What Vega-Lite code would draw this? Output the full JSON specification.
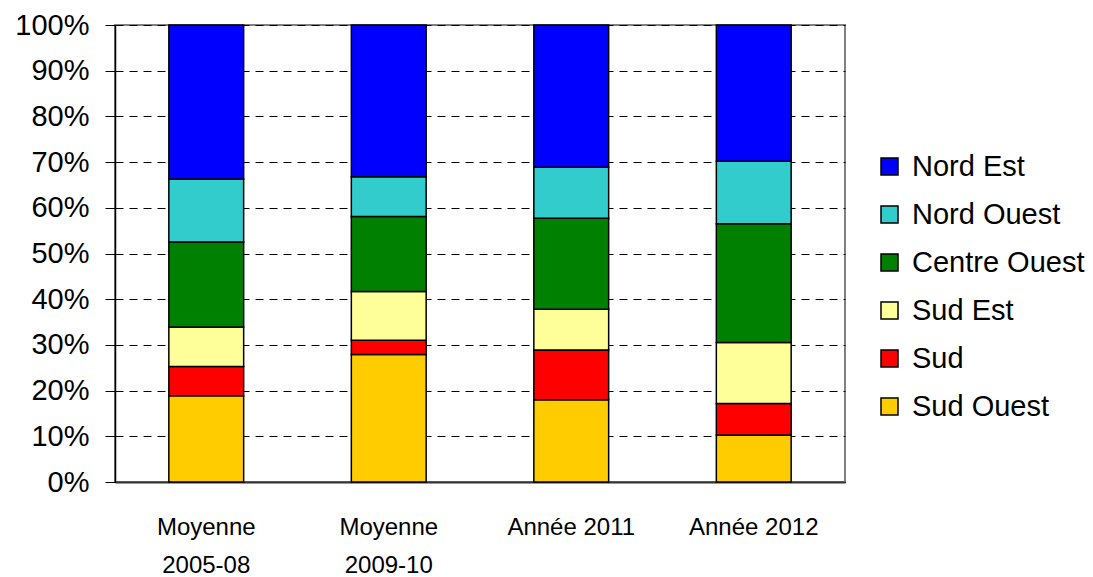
{
  "$schema": "https://vega.github.io/schema/vega-lite/v6.json",
  "width": 730,
  "height": 457,
  "autosize": {"type": "none"},
  "padding": {"left": 115, "top": 25, "right": 248, "bottom": 95},
  "background": "white",
  "config": {
    "view": {"stroke": "#808080", "strokeWidth": 2},
    "font": "Liberation Sans"
  },
  "data": {
    "values": [
      {"periode": "Moyenne 2005-08", "region": "Sud Ouest", "ord": 1, "part": 0.189},
      {"periode": "Moyenne 2005-08", "region": "Sud", "ord": 2, "part": 0.064},
      {"periode": "Moyenne 2005-08", "region": "Sud Est", "ord": 3, "part": 0.086},
      {"periode": "Moyenne 2005-08", "region": "Centre Ouest", "ord": 4, "part": 0.186},
      {"periode": "Moyenne 2005-08", "region": "Nord Ouest", "ord": 5, "part": 0.138},
      {"periode": "Moyenne 2005-08", "region": "Nord Est", "ord": 6, "part": 0.337},
      {"periode": "Moyenne 2009-10", "region": "Sud Ouest", "ord": 1, "part": 0.279},
      {"periode": "Moyenne 2009-10", "region": "Sud", "ord": 2, "part": 0.031},
      {"periode": "Moyenne 2009-10", "region": "Sud Est", "ord": 3, "part": 0.107},
      {"periode": "Moyenne 2009-10", "region": "Centre Ouest", "ord": 4, "part": 0.164},
      {"periode": "Moyenne 2009-10", "region": "Nord Ouest", "ord": 5, "part": 0.087},
      {"periode": "Moyenne 2009-10", "region": "Nord Est", "ord": 6, "part": 0.332},
      {"periode": "Année 2011", "region": "Sud Ouest", "ord": 1, "part": 0.180},
      {"periode": "Année 2011", "region": "Sud", "ord": 2, "part": 0.109},
      {"periode": "Année 2011", "region": "Sud Est", "ord": 3, "part": 0.089},
      {"periode": "Année 2011", "region": "Centre Ouest", "ord": 4, "part": 0.199},
      {"periode": "Année 2011", "region": "Nord Ouest", "ord": 5, "part": 0.112},
      {"periode": "Année 2011", "region": "Nord Est", "ord": 6, "part": 0.311},
      {"periode": "Année 2012", "region": "Sud Ouest", "ord": 1, "part": 0.103},
      {"periode": "Année 2012", "region": "Sud", "ord": 2, "part": 0.069},
      {"periode": "Année 2012", "region": "Sud Est", "ord": 3, "part": 0.133},
      {"periode": "Année 2012", "region": "Centre Ouest", "ord": 4, "part": 0.260},
      {"periode": "Année 2012", "region": "Nord Ouest", "ord": 5, "part": 0.137},
      {"periode": "Année 2012", "region": "Nord Est", "ord": 6, "part": 0.298}
    ]
  },
  "mark": {"type": "bar", "stroke": "black", "strokeWidth": 1.5},
  "encoding": {
    "x": {
      "field": "periode",
      "type": "nominal",
      "sort": null,
      "scale": {"paddingInner": 0.59, "paddingOuter": 0.295},
      "axis": {
        "title": null,
        "labelAngle": 0,
        "ticks": false,
        "domainColor": "#333333",
        "domainWidth": 2,
        "labelFontSize": 24,
        "labelColor": "black",
        "labelPadding": 33,
        "labelLineHeight": 38,
        "labelExpr": "indexof(datum.label, 'Moyenne') == 0 ? split(datum.label, ' ') : datum.label"
      }
    },
    "y": {
      "field": "part",
      "type": "quantitative",
      "stack": "zero",
      "scale": {"domain": [0, 1], "nice": false},
      "axis": {
        "title": null,
        "format": ".0%",
        "values": [0, 0.1, 0.2, 0.3, 0.4, 0.5, 0.6, 0.7, 0.8, 0.9, 1],
        "labelFontSize": 29,
        "labelColor": "black",
        "labelPadding": 16,
        "tickSize": 10,
        "tickColor": "black",
        "domainColor": "black",
        "domainWidth": 1.5,
        "grid": true,
        "gridColor": "black",
        "gridDash": [8, 6],
        "gridWidth": 1.2
      }
    },
    "color": {
      "field": "region",
      "type": "nominal",
      "scale": {
        "domain": ["Nord Est", "Nord Ouest", "Centre Ouest", "Sud Est", "Sud", "Sud Ouest"],
        "range": ["#0000FF", "#33CCCC", "#008000", "#FFFF99", "#FF0000", "#FFCC00"]
      },
      "legend": {
        "title": null,
        "orient": "none",
        "legendX": 760,
        "legendY": 127,
        "padding": 0,
        "symbolType": "square",
        "symbolSize": 289,
        "symbolStrokeColor": "black",
        "symbolStrokeWidth": 1.5,
        "symbolOpacity": 1,
        "labelFontSize": 29,
        "labelColor": "black",
        "labelOffset": 8,
        "rowPadding": 18,
        "labelLimit": 300
      }
    },
    "order": {"field": "ord", "type": "quantitative", "sort": "ascending"}
  }
}
